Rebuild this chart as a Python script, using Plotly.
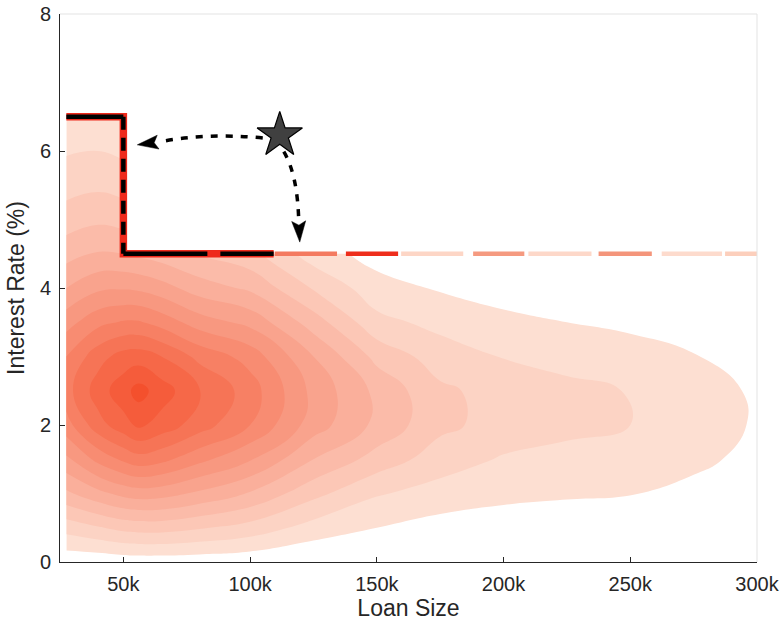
import numpy as np
import plotly.graph_objects as go

# ---------------------------------------------------------------------------
# Data
# ---------------------------------------------------------------------------
# Grid of the loan-level density (in contour-level units) over loan size (k$)
# and interest rate (%).
loan_k = [27.5, 40, 50, 56, 65, 80, 100, 125, 150, 175, 200, 225, 250, 275, 300]
rate_pct = [0.0, 0.5, 1.0, 1.5, 2.0, 2.5, 3.0, 3.5, 4.0, 4.5, 5.0, 5.5, 6.0, 6.5]
density = [
    [0.3, 0.3, 0.4, 0.45, 0.45, 0.4, 0.3, 0.0, 0.0, 0.0, 0.0, 0.0, 0.0, 0.0, 0.0],
    [2.4, 2.9, 3.3, 3.4, 3.4, 3.1, 2.6, 1.6, 1.0, 0.6, 0.4, 0.3, 0.2, 0.0, 0.0],
    [4.8, 5.7, 6.3, 6.5, 6.4, 5.8, 4.9, 3.3, 2.1, 1.6, 1.3, 1.15, 1.05, 0.7, 0.25],
    [6.8, 8.3, 9.2, 9.6, 9.3, 8.3, 7.1, 5.0, 3.6, 2.5, 1.9, 1.65, 1.5, 1.25, 0.7],
    [8.6, 10.6, 11.6, 12.2, 11.6, 10.5, 9.0, 6.5, 4.75, 3.25, 2.6, 2.3, 2.0, 1.5, 0.9],
    [9.6, 11.5, 12.6, 13.4, 12.5, 11.1, 9.5, 6.7, 4.75, 3.2, 2.6, 2.3, 1.95, 1.45, 0.86],
    [9.0, 10.6, 11.4, 11.5, 11.0, 9.7, 8.6, 6.0, 3.7, 2.5, 1.95, 1.6, 1.4, 1.05, 0.55],
    [7.6, 8.7, 9.1, 9.1, 8.6, 7.5, 6.7, 4.5, 2.3, 1.7, 1.3, 1.0, 0.8, 0.55, 0.15],
    [6.0, 6.8, 6.9, 6.8, 6.4, 5.5, 4.8, 2.9, 1.4, 0.9, 0.5, 0.3, 0.2, 0.0, 0.0],
    [4.6, 5.1, 5.0, 4.8, 4.5, 3.9, 3.3, 1.5, 0.6, 0.3, 0.0, 0.0, 0.0, 0.0, 0.0],
    [3.5, 3.8, 3.6, 3.4, 3.2, 2.7, 2.3, 0.9, 0.1, 0.0, 0.0, 0.0, 0.0, 0.0, 0.0],
    [2.6, 2.8, 2.6, 2.4, 2.2, 1.9, 1.6, 0.5, 0.0, 0.0, 0.0, 0.0, 0.0, 0.0, 0.0],
    [1.9, 2.0, 1.8, 1.7, 1.5, 1.3, 1.0, 0.2, 0.0, 0.0, 0.0, 0.0, 0.0, 0.0, 0.0],
    [1.4, 1.4, 1.25, 1.1, 1.0, 0.9, 0.7, 0.0, 0.0, 0.0, 0.0, 0.0, 0.0, 0.0, 0.0],
]

# Interest-rate cap schedule (k$, %)
cap_loan_k = [27.5, 50, 50, 300]
cap_rate = [6.5, 6.5, 4.5, 4.5]

# Bunching at the cap: heavy section, then lighter segments along the 4.5% cap
heavy_end_k = 109.3
bunch_start_k = [109.7, 137.8, 159.6, 188.0, 209.8, 237.5, 262.4, 287.4]
bunch_end_k = [134.3, 158.4, 184.1, 208.2, 234.7, 258.5, 286.2, 300.0]
bunch_color = ["#f47a60", "#ee2e1c", "#fdd6c6", "#f59a80",
               "#fdd8c9", "#f4957b", "#fddbcd", "#fccfbc"]

# Highlighted loan and where its arrows point
star_k, star_rate = 111.7, 6.23

x_tick_k = [50, 100, 150, 200, 250, 300]
x_tick_text = ["50k", "100k", "150k", "200k", "250k", "300k"]
y_ticks = [0, 2, 4, 6, 8]

# ---------------------------------------------------------------------------
# Geometry of the plotting area
# ---------------------------------------------------------------------------
W, H = 782, 626
M = dict(l=60, r=25, t=14, b=64)
X_RANGE = [25000, 300000]
Y_RANGE = [0, 8]
plot_w = W - M["l"] - M["r"]
plot_h = H - M["t"] - M["b"]
sx = (X_RANGE[1] - X_RANGE[0]) / plot_w   # dollars per pixel
sy = (Y_RANGE[1] - Y_RANGE[0]) / plot_h   # percent per pixel

K = 1000.0
loan = [v * K for v in loan_k]

# Contour colours: white outside, light salmon to deep red-orange inside
n_levels = 13
light = np.array([253, 223, 210])
dark = np.array([244, 80, 45])
colorscale = [[0.0, "rgb(255,255,255)"]]
for i in range(1, n_levels + 1):
    c = light + (dark - light) * (i - 1) / (n_levels - 1)
    colorscale.append([i / n_levels, "rgb(%d,%d,%d)" % tuple(np.round(c))])

fig = go.Figure()

fig.add_trace(go.Contour(
    x=loan, y=rate_pct, z=density,
    contours=dict(start=1, end=n_levels, size=1, coloring="fill", showlines=False),
    line=dict(width=0, smoothing=1.3),
    colorscale=colorscale, showscale=False, hoverinfo="skip",
))

# Nothing lies above the cap: blank out the region between the cap and grid top
mx0, mx1 = cap_loan_k[2] * K, X_RANGE[1]
my0, my1 = cap_rate[2], rate_pct[-1] + 0.1
fig.add_trace(go.Scatter(
    x=[mx0, mx1, mx1, mx0, mx0], y=[my0, my0, my1, my1, my0],
    mode="lines", fill="toself", fillcolor="white",
    line=dict(width=0, color="white"), hoverinfo="skip", showlegend=False,
))

# Heavy bunching section of the cap: red underlay with black dashes
heavy_x = [cap_loan_k[0] * K, cap_loan_k[1] * K, cap_loan_k[2] * K, heavy_end_k * K]
heavy_y = [cap_rate[0], cap_rate[1], cap_rate[2], cap_rate[3]]
fig.add_trace(go.Scatter(x=heavy_x, y=heavy_y, mode="lines",
                         line=dict(color="#ee2a1c", width=7.5),
                         hoverinfo="skip", showlegend=False))
fig.add_trace(go.Scatter(x=heavy_x[0:2], y=heavy_y[0:2], mode="lines",
                         line=dict(color="black", width=4.5),
                         hoverinfo="skip", showlegend=False))
fig.add_trace(go.Scatter(x=heavy_x[1:3], y=heavy_y[1:3], mode="lines",
                         line=dict(color="black", width=4.5, dash="13px,8px"),
                         hoverinfo="skip", showlegend=False))
fig.add_trace(go.Scatter(x=heavy_x[2:4], y=heavy_y[2:4], mode="lines",
                         line=dict(color="black", width=4.5, dash="84px,13px"),
                         hoverinfo="skip", showlegend=False))

# Lighter bunching segments along the remainder of the cap
for xs, xe, col in zip(bunch_start_k, bunch_end_k, bunch_color):
    fig.add_trace(go.Scatter(x=[xs * K, xe * K], y=[cap_rate[3], cap_rate[3]],
                             mode="lines", line=dict(color=col, width=4.5),
                             hoverinfo="skip", showlegend=False))

# Curved dotted arrows from the highlighted loan
arrows = [
    # start (k$, %), control, end of shaft, tip
    dict(p0=(105.0, 6.19), c=(82.4, 6.27), p1=(63.8, 6.13), tip=(55.5, 6.09)),
    dict(p0=(113.3, 5.99), c=(118.8, 5.65), p1=(119.2, 4.96), tip=(119.6, 4.67)),
]
shapes = []
for a in arrows:
    (x0, y0), (cx, cy), (x1, y1), (tx, ty) = a["p0"], a["c"], a["p1"], a["tip"]
    shapes.append(dict(
        type="path", xref="x", yref="y",
        path="M %f,%f Q %f,%f %f,%f" % (x0 * K, y0, cx * K, cy, x1 * K, y1),
        line=dict(color="black", width=3.5, dash="7px,8px"),
    ))
    # arrowhead drawn in screen space, converted back to data units
    ux = (tx - x1) * K / sx
    uy = -(ty - y1) / sy
    n = np.hypot(ux, uy)
    ux, uy = ux / n, uy / n
    L, hw, notch = 21.0, 7.0, 4.0
    tpx, tpy = tx * K / sx, -ty / sy

    def to_data(px, py):
        return px * sx, -py * sy

    pts = [
        (tpx, tpy),
        (tpx - L * ux - hw * uy, tpy - L * uy + hw * ux),
        (tpx - (L - notch) * ux, tpy - (L - notch) * uy),
        (tpx - L * ux + hw * uy, tpy - L * uy - hw * ux),
    ]
    dpts = [to_data(*p) for p in pts]
    path = "M " + " L ".join("%f,%f" % p for p in dpts) + " Z"
    shapes.append(dict(type="path", xref="x", yref="y", path=path,
                       fillcolor="black", line=dict(color="black", width=0.5)))

fig.add_trace(go.Scatter(
    x=[star_k * K], y=[star_rate], mode="markers",
    marker=dict(symbol="star", size=34, color="#404040",
                line=dict(color="black", width=1.2)),
    hoverinfo="skip", showlegend=False,
))

# Light box on the top and right sides
shapes += [
    dict(type="line", xref="paper", yref="paper", x0=0, x1=1, y0=1, y1=1,
         line=dict(color="#e3e3e3", width=1)),
    dict(type="line", xref="paper", yref="paper", x0=1, x1=1, y0=0, y1=1,
         line=dict(color="#e3e3e3", width=1)),
]

font_family = "Liberation Sans, Arial, Helvetica, sans-serif"
axis_common = dict(
    showgrid=False, zeroline=False, showline=True, linecolor="#262626",
    linewidth=1, ticks="inside", ticklen=5, tickcolor="#262626", tickwidth=1,
    automargin=False,
    tickfont=dict(family=font_family, size=20, color="#262626"),
)

fig.update_layout(
    width=W, height=H, autosize=False,
    margin=dict(l=M["l"], r=M["r"], t=M["t"], b=M["b"], pad=0),
    paper_bgcolor="white", plot_bgcolor="white",
    showlegend=False,
    shapes=shapes,
    xaxis=dict(range=X_RANGE, tickvals=[v * K for v in x_tick_k],
               ticktext=x_tick_text, ticklabelstandoff=4,
               title=dict(text="Loan Size", standoff=4,
                          font=dict(family=font_family, size=23, color="#262626")),
               **axis_common),
    yaxis=dict(range=Y_RANGE, tickvals=y_ticks, ticklabelstandoff=4,
               title=dict(text="Interest Rate (%)", standoff=8,
                          font=dict(family=font_family, size=23, color="#262626")),
               **axis_common),
)

fig.write_html("out.html")
